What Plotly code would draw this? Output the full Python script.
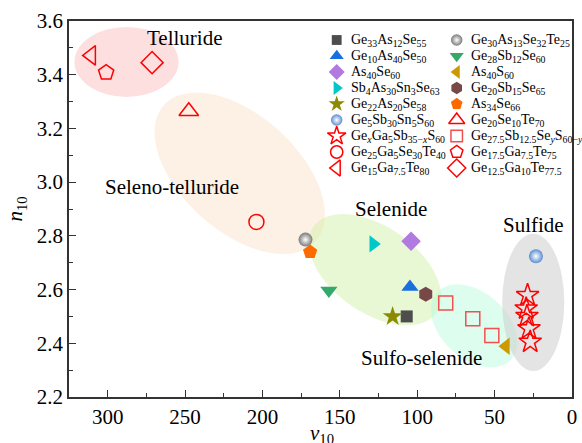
import math
import plotly.graph_objects as go

# ---------------- data ----------------
col1_names = [
    "Ge<sub>33</sub>As<sub>12</sub>Se<sub>55</sub>",
    "Ge<sub>10</sub>As<sub>40</sub>Se<sub>50</sub>",
    "As<sub>40</sub>Se<sub>60</sub>",
    "Sb<sub>4</sub>As<sub>30</sub>Sn<sub>3</sub>Se<sub>63</sub>",
    "Ge<sub>22</sub>As<sub>20</sub>Se<sub>58</sub>",
    "Ge<sub>5</sub>Sb<sub>30</sub>Sn<sub>5</sub>S<sub>60</sub>",
    "Ge<sub><i>x</i></sub>Ga<sub>5</sub>Sb<sub>35−<i>x</i></sub>S<sub>60</sub>",
    "Ge<sub>25</sub>Ga<sub>5</sub>Se<sub>30</sub>Te<sub>40</sub>",
    "Ge<sub>15</sub>Ga<sub>7.5</sub>Te<sub>80</sub>",
]
col1_v = [[106.8], [104.7], [104.0], [128.4], [115.9], [23.3],
          [28.7, 29.6, 29.1, 27.8, 27.0], [203.9], [310.7]]
col1_n = [[2.50], [2.61], [2.78], [2.77], [2.50], [2.724],
          [2.579, 2.529, 2.501, 2.455, 2.405], [2.852], [3.472]]

col2_names = [
    "Ge<sub>30</sub>As<sub>13</sub>Se<sub>32</sub>Te<sub>25</sub>",
    "Ge<sub>28</sub>Sb<sub>12</sub>Se<sub>60</sub>",
    "As<sub>40</sub>S<sub>60</sub>",
    "Ge<sub>20</sub>Sb<sub>15</sub>Se<sub>65</sub>",
    "As<sub>34</sub>Se<sub>66</sub>",
    "Ge<sub>20</sub>Se<sub>10</sub>Te<sub>70</sub>",
    "Ge<sub>27.5</sub>Sb<sub>12.5</sub>Se<sub><i>y</i></sub>S<sub>60−<i>y</i></sub>",
    "Ge<sub>17.5</sub>Ga<sub>7.5</sub>Te<sub>75</sub>",
    "Ge<sub>12.5</sub>Ga<sub>10</sub>Te<sub>77.5</sub>",
]
col2_v = [[172.2], [157.1], [42.7], [94.5], [169.2], [247.6],
          [81.6, 64.1, 51.8], [301.0], [271.3]]
col2_n = [[2.786], [2.597], [2.389], [2.583], [2.74], [3.264],
          [2.55, 2.491, 2.429], [3.408], [3.445]]

region_labels = ["Telluride", "Seleno-telluride", "Selenide", "Sulfide", "Sulfo-selenide"]
region_label_v = [250.3, 258.4, 117.0, 25.0, 97.1]
region_label_n = [3.536, 2.981, 2.899, 2.839, 2.344]

x_ticks = [300, 250, 200, 150, 100, 50, 0]
y_ticks = [2.2, 2.4, 2.6, 2.8, 3.0, 3.2, 3.4, 3.6]

# ---------------- styles ----------------
col1_style = [
    dict(symbol="square", color="#4d4d4d", size=12),
    dict(symbol="triangle-up", color="#1a6fe0", size=15),
    dict(symbol="diamond", color="#b07ae0", size=15),
    dict(symbol="triangle-right", color="#00c8c8", size=15),
    dict(symbol="star", color="#8b8a00", size=15),
    dict(symbol="circle", color="#5b8fd0", size=14, sphere=True),
    dict(symbol="star-open", color="#ff0000", size=17),
    dict(symbol="circle-open", color="#ff0000", size=15),
    dict(symbol="triangle-left-open", color="#ff0000", size=17),
]
col2_style = [
    dict(symbol="circle", color="#7a7a7a", size=14, sphere=True),
    dict(symbol="triangle-down", color="#35a96b", size=15),
    dict(symbol="triangle-left", color="#cc9900", size=15),
    dict(symbol="hexagon", color="#784848", size=15),
    dict(symbol="pentagon", color="#ff6a00", size=15),
    dict(symbol="triangle-up-open", color="#ff0000", size=17),
    dict(symbol="square-open", color="#f05050", size=14),
    dict(symbol="pentagon-open", color="#ff0000", size=16),
    dict(symbol="diamond-open", color="#ff0000", size=17),
]

FONT = "Liberation Serif"
W, H = 582, 443
ML, MR, MT, MB = 69, 10, 21, 46
XR = [325, 0]
YR = [2.2, 3.6]
pxx = (W - ML - MR) / (XR[0] - XR[1])   # px per x unit (reversed axis)
pxy = (H - MT - MB) / (YR[1] - YR[0])   # px per y unit

fig = go.Figure()


def make_marker(st, scale=1.0):
    marker = dict(symbol=st["symbol"], color=st["color"], size=st["size"] * scale)
    if st["symbol"].endswith("open"):
        marker["line"] = dict(color=st["color"], width=1.5)
    else:
        marker["line"] = dict(width=0)
    if st.get("sphere"):
        marker["gradient"] = dict(type="radial", color="#ffffff")
    return marker


def add_series(names, vs, ns, styles):
    for name, v, n, st in zip(names, vs, ns, styles):
        fig.add_trace(go.Scatter(x=v, y=n, mode="markers", name=name,
                                 marker=make_marker(st), showlegend=False))


add_series(col1_names, col1_v, col1_n, col1_style)
add_series(col2_names, col2_v, col2_n, col2_style)

# ---------------- legend (drawn on a hidden pixel-scaled overlay axis) ----------------
LEG_COL_X = [336.7, 456.7]   # symbol centres (px)
LEG_TEXT_DX = 12.5
LEG_Y0 = 40.0
LEG_DY = 16.0
for ci, (names, styles) in enumerate([(col1_names, col1_style), (col2_names, col2_style)]):
    for ri, (name, st) in enumerate(zip(names, styles)):
        ly = LEG_Y0 + ri * LEG_DY
        fig.add_trace(go.Scatter(x=[LEG_COL_X[ci]], y=[ly], mode="markers",
                                 marker=make_marker(st, 0.82), xaxis="x2", yaxis="y2",
                                 showlegend=False, hoverinfo="skip"))
        fig.add_annotation(x=LEG_COL_X[ci] + LEG_TEXT_DX, y=ly, xref="x2", yref="y2",
                           text=name, showarrow=False, xanchor="left", yanchor="middle",
                           font=dict(family=FONT, size=14, color="#000000"))


# ---------------- region ellipses ----------------
def rotated_ellipse(cv, cn, a_px, b_px, ang_deg, npts=90):
    t = math.radians(ang_deg)
    pts = []
    for i in range(npts + 1):
        s = 2 * math.pi * i / npts
        dx = a_px * math.cos(s) * math.cos(t) - b_px * math.sin(s) * math.sin(t)
        dy = a_px * math.cos(s) * math.sin(t) + b_px * math.sin(s) * math.cos(t)
        pts.append((cv - dx / pxx, cn - dy / pxy))
    return "M " + " L ".join(f"{x:.3f},{y:.4f}" for x, y in pts) + " Z"


shapes = [
    dict(type="circle", x0=321.5, x1=254.2, y0=3.578, y1=3.317,
         fillcolor="rgba(250,185,185,0.45)"),
    dict(type="path", path=rotated_ellipse(214.7, 3.033, 102, 58, 42),
         fillcolor="rgba(250,215,180,0.35)"),
    dict(type="path", path=rotated_ellipse(127.3, 2.674, 75, 43, 35),
         fillcolor="rgba(205,240,160,0.45)"),
    dict(type="path", path=rotated_ellipse(63.2, 2.465, 50, 33, 42),
         fillcolor="rgba(180,250,220,0.45)"),
    dict(type="circle", x0=45.1, x1=5.0, y0=2.808, y1=2.297,
         fillcolor="rgba(205,205,205,0.55)"),
]
for s in shapes:
    s.update(xref="x", yref="y", line=dict(width=0), layer="below")
fig.update_layout(shapes=shapes)

for txt, v, n in zip(region_labels, region_label_v, region_label_n):
    fig.add_annotation(x=v, y=n, text=txt, showarrow=False,
                       font=dict(family=FONT, size=21, color="#000000"))

# x-axis title placed low so that, as in the original, it sits at the page edge
fig.add_annotation(x=0.503, y=-0.098, xref="paper", yref="paper", yanchor="middle",
                   text="<i>v</i><sub>10</sub>", showarrow=False,
                   font=dict(family=FONT, size=21, color="#000000"))

axis_common = dict(
    showgrid=False, zeroline=False, showline=True, mirror=True,
    linecolor="#333333", linewidth=1.5,
    ticks="inside", ticklen=7, tickwidth=1.2, tickcolor="#333333",
    tickfont=dict(family=FONT, size=21, color="#000000"),
)

fig.update_layout(
    xaxis=dict(range=XR, tickmode="array", tickvals=x_ticks,
               ticktext=[str(t) for t in x_ticks],
               minor=dict(ticks="inside", ticklen=4, tickwidth=1.2, tickcolor="#333333",
                          dtick=25, tick0=0),
               **axis_common),
    yaxis=dict(range=YR, tickmode="array", tickvals=y_ticks,
               ticktext=[f"{t:.1f}" for t in y_ticks],
               minor=dict(ticks="inside", ticklen=4, tickwidth=1.2, tickcolor="#333333",
                          dtick=0.1, tick0=0),
               title=dict(text="<i>n</i><sub>10</sub>", standoff=8,
                          font=dict(family=FONT, size=21, color="#000000")),
               **axis_common),
    xaxis2=dict(overlaying="x", range=[ML, W - MR], visible=False, fixedrange=True),
    yaxis2=dict(overlaying="y", range=[H - MB, MT], visible=False, fixedrange=True),
)

fig.update_layout(
    width=W, height=H,
    margin=dict(l=ML, r=MR, t=MT, b=MB, autoexpand=False),
    paper_bgcolor="#ffffff", plot_bgcolor="#ffffff",
    font=dict(family=FONT),
    showlegend=False,
)

fig.write_html("out.html")
